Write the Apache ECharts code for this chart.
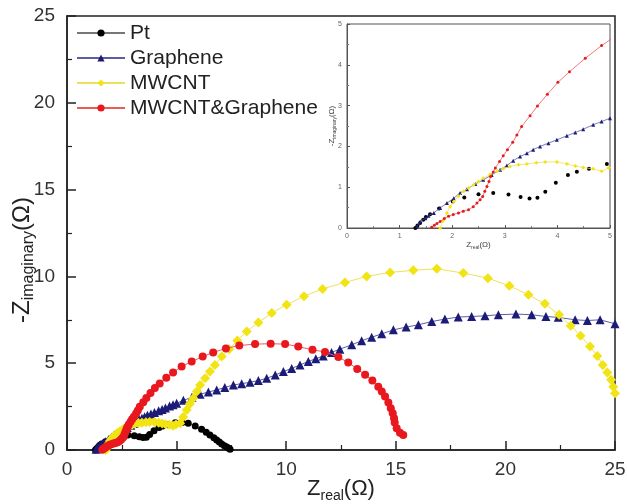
<!DOCTYPE html>
<html>
<head>
<meta charset="utf-8">
<script src="https://cdn.jsdelivr.net/npm/echarts@6/dist/echarts.min.js"></script>
<style>
  html, body { margin: 0; padding: 0; background: #fff; }
  #chart { width: 627px; height: 504px; }
</style>
</head>
<body>
<div id="chart"></div>
<script>
// Nyquist data, [Zreal, -Zimag] in ohm
var ptData = [[1.3,0],[1.34,0.06],[1.39,0.12],[1.45,0.2],[1.5,0.27],[1.58,0.34],[1.75,0.48],[2.01,0.65],
  [2.23,0.75],[2.5,0.83],[2.78,0.86],[3.07,0.82],[3.3,0.76],[3.47,0.72],[3.62,0.74],[3.77,0.89],[3.97,1.11],
  [4.2,1.3],[4.37,1.38],[4.6,1.45],[4.94,1.57],[5.25,1.58],[5.53,1.54],[5.85,1.38],[6.14,1.19],[6.35,1.02],
  [6.52,0.86],[6.7,0.7],[6.83,0.58],[6.95,0.46],[7.06,0.35],[7.18,0.25],[7.29,0.17],[7.38,0.1],[7.44,0.04]];

var grapheneData = [[1.33,0.04],[1.39,0.16],[1.49,0.24],[1.55,0.3],[1.65,0.37],[1.77,0.49],[1.9,0.61],
  [2.03,0.73],[2.15,0.86],[2.28,0.95],[2.44,1.08],[2.59,1.18],[2.75,1.3],[2.91,1.43],[3.04,1.53],[3.16,1.65],
  [3.29,1.75],[3.42,1.83],[3.54,1.92],[3.67,2.0],[3.83,2.08],[3.99,2.16],[4.18,2.26],[4.34,2.34],[4.49,2.42],
  [4.68,2.53],[4.84,2.61],[5.0,2.69],[5.31,2.86],[5.7,3.04],[6.07,3.21],[6.45,3.34],[6.83,3.46],[7.2,3.6],
  [7.59,3.75],[7.97,3.82],[8.35,3.9],[8.73,4.0],[9.11,4.13],[9.5,4.32],[9.87,4.52],[10.25,4.7],[10.63,4.9],
  [11.01,5.1],[11.35,5.26],[11.69,5.42],[12.07,5.62],[12.45,5.81],[12.99,6.06],[13.44,6.29],[13.9,6.5],
  [14.36,6.69],[14.89,6.92],[15.47,7.08],[16.03,7.21],[16.64,7.4],[17.24,7.54],[17.85,7.66],[18.46,7.69],
  [19.07,7.73],[19.68,7.79],[20.48,7.83],[21.2,7.79],[21.85,7.69],[22.41,7.64],[23.18,7.5],[23.74,7.46],
  [24.32,7.5],[25.0,7.27]];

var mwcntData = [[1.77,0],[1.83,0.18],[1.9,0.37],[1.96,0.52],[2.03,0.65],[2.12,0.78],[2.22,0.9],[2.31,0.98],
  [2.41,1.06],[2.5,1.14],[2.59,1.22],[2.72,1.31],[2.85,1.39],[2.97,1.45],[3.1,1.51],[3.26,1.55],[3.42,1.57],
  [3.6,1.6],[3.77,1.62],[3.99,1.62],[4.18,1.57],[4.34,1.52],[4.49,1.48],[4.68,1.45],[4.84,1.39],[4.97,1.47],
  [5.16,1.54],[5.3,1.9],[5.46,2.31],[5.6,2.65],[5.76,2.98],[5.92,3.37],[6.07,3.75],[6.3,4.14],[6.52,4.52],
  [6.75,4.9],[7.06,5.38],[7.4,5.81],[7.77,6.31],[8.2,6.83],[8.73,7.35],[9.34,7.89],[10.02,8.37],[10.81,8.85],
  [11.66,9.28],[12.68,9.65],[13.67,10.0],[14.74,10.23],[15.8,10.35],[16.87,10.44],[18.08,10.19],[19.2,9.9],
  [20.18,9.46],[21.05,8.94],[21.8,8.42],[22.45,7.79],[22.98,7.16],[23.43,6.58],[23.86,5.96],[24.19,5.42],
  [24.44,4.9],[24.65,4.46],[24.82,4.04],[24.92,3.65],[25.0,3.27]];

var hybridData = [[1.61,0.02],[1.66,0.07],[1.71,0.11],[1.77,0.16],[1.85,0.23],[1.93,0.29],[2.02,0.33],
  [2.12,0.37],[2.21,0.41],[2.31,0.45],[2.4,0.52],[2.47,0.61],[2.53,0.69],[2.58,0.77],[2.62,0.9],[2.66,1.02],
  [2.7,1.14],[2.73,1.26],[2.78,1.37],[2.82,1.47],[2.9,1.63],[2.97,1.77],[3.05,1.92],[3.15,2.1],[3.23,2.28],
  [3.32,2.49],[3.48,2.75],[3.62,2.99],[3.81,3.28],[4.01,3.57],[4.23,3.83],[4.53,4.16],[4.84,4.47],[5.23,4.81],
  [5.69,5.1],[6.19,5.38],[6.67,5.62],[7.25,5.85],[7.86,6.02],[8.58,6.1],[9.29,6.12],[9.95,6.1],[10.55,5.96],
  [11.2,5.77],[11.77,5.65],[12.38,5.35],[12.83,5.04],[13.24,4.67],[13.6,4.33],[13.93,4.0],[14.2,3.65],
  [14.36,3.37],[14.51,3.08],[14.66,2.73],[14.77,2.4],[14.86,2.11],[14.92,1.83],[14.95,1.58],[15.04,1.25],
  [15.19,1.0],[15.34,0.87]];

var seriesNames = ["Pt", "Graphene", "MWCNT", "MWCNT&Graphene"];

var chart = echarts.init(document.getElementById("chart"));
var font = "Liberation Sans, Arial, sans-serif";

// style per curve: symbol colour, line colour, symbol
var looks = [
  { data: ptData, color: "#000000", line: "#777777", symbol: "circle", size: 7, small: 4 },
  { data: grapheneData, color: "#1c1c78", line: "#5c5ca6", symbol: "triangle", size: 9, small: 4 },
  { data: mwcntData, color: "#f2e414", line: "#ece25a", symbol: "diamond", size: 10, small: 4 },
  { data: hybridData, color: "#e8181e", line: "#ec5a5a", symbol: "circle", size: 8, small: 3 }
];

var series = [];
looks.forEach(function (s, i) {
  series.push({
    name: seriesNames[i],
    type: "line",
    xAxisIndex: 0,
    yAxisIndex: 0,
    data: s.data,
    symbol: s.symbol,
    symbolSize: s.size,
    showAllSymbol: true,
    itemStyle: { color: s.color },
    lineStyle: { color: s.line, width: 1 },
    z: 2 + i
  });
  // inset, same data clipped to 0..5
  series.push({
    name: seriesNames[i],
    type: "line",
    xAxisIndex: 1,
    yAxisIndex: 1,
    data: s.data,
    symbol: s.symbol,
    symbolSize: s.small,
    showAllSymbol: true,
    clip: true,
    itemStyle: { color: s.color },
    lineStyle: { color: s.line, width: i == 0 ? 0 : 0.8 },
    z: 2 + i
  });
});

var mainAxis = {
  min: 0,
  max: 25,
  interval: 5,
  nameMoveOverlap: false,
  axisLine: { show: true, onZero: false, lineStyle: { color: "#222", width: 1.5 } },
  axisTick: { inside: true, length: 9, lineStyle: { color: "#222", width: 1.5 } },
  minorTick: { show: true, splitNumber: 2, length: 5, lineStyle: { color: "#222", width: 1.2 } },
  splitLine: { show: false },
  axisLabel: { color: "#333", fontSize: 19, fontFamily: font }
};

var insetAxis = {
  min: 0,
  max: 5,
  interval: 1,
  nameMoveOverlap: false,
  axisLine: { show: true, onZero: false, lineStyle: { color: "#555", width: 1 } },
  axisTick: { inside: true, length: 3, lineStyle: { color: "#555" } },
  minorTick: { show: true, splitNumber: 2, length: 2, lineStyle: { color: "#777" } },
  splitLine: { show: false },
  axisLabel: { color: "#666", fontSize: 7, fontFamily: font, margin: 5 }
};

var option = {
  animation: false,
  backgroundColor: "#fff",
  textStyle: { fontFamily: font },
  legend: {
    data: seriesNames,
    orient: "vertical",
    left: 71,
    top: 17,
    itemWidth: 48,
    itemHeight: 9,
    itemGap: 3,
    textStyle: { fontSize: 21, lineHeight: 22, color: "#222", fontFamily: font }
  },
  grid: [
    { left: 67, right: 12, top: 16, bottom: 54, outerBoundsMode: "none", containLabel: false,
      show: true, borderColor: "#222", borderWidth: 1.5 },
    { left: 347, right: 17, top: 24, bottom: 276, outerBoundsMode: "none", containLabel: false,
      show: true, borderColor: "#555", borderWidth: 1, backgroundColor: "#fff" }
  ],
  xAxis: [
    Object.assign({}, mainAxis, {
      type: "value",
      gridIndex: 0,
      name: "{a|Z}{b|real}{a|(Ω)}",
      nameLocation: "middle",
      nameGap: 25,
      nameTextStyle: {
        rich: {
          a: { fontSize: 22, color: "#222", fontFamily: font, lineHeight: 24 },
          b: { fontSize: 14, color: "#222", fontFamily: font, padding: [14, 0, 0, 0] }
        }
      },
      axisLabel: Object.assign({}, mainAxis.axisLabel, { margin: 10 })
    }),
    Object.assign({}, insetAxis, {
      type: "value",
      gridIndex: 1,
      name: "{a|Z}{b|real}{a|(Ω)}",
      nameLocation: "middle",
      nameGap: 12,
      nameTextStyle: {
        rich: {
          a: { fontSize: 8, color: "#444", fontFamily: font, lineHeight: 9 },
          b: { fontSize: 5, color: "#444", fontFamily: font, padding: [5, 0, 0, 0] }
        }
      }
    })
  ],
  yAxis: [
    Object.assign({}, mainAxis, {
      type: "value",
      gridIndex: 0,
      name: "{a|-Z}{b|imaginary}{a|(Ω)}",
      nameLocation: "middle",
      nameGap: 30,
      nameTextStyle: {
        padding: [0, 54, 0, 0],
        rich: {
          a: { fontSize: 24, color: "#222", fontFamily: font, lineHeight: 26 },
          b: { fontSize: 16, color: "#222", fontFamily: font, padding: [14, 0, 0, 0] }
        }
      },
      axisLabel: Object.assign({}, mainAxis.axisLabel, { margin: 12 })
    }),
    Object.assign({}, insetAxis, {
      type: "value",
      gridIndex: 1,
      name: "{a|-Z}{b|imaginary}{a|(Ω)}",
      nameLocation: "middle",
      nameGap: 10,
      nameTextStyle: {
        rich: {
          a: { fontSize: 8, color: "#444", fontFamily: font, lineHeight: 9 },
          b: { fontSize: 5, color: "#444", fontFamily: font, padding: [5, 0, 0, 0] }
        }
      }
    })
  ],
  series: series
};

chart.setOption(option);
</script>
</body>
</html>
